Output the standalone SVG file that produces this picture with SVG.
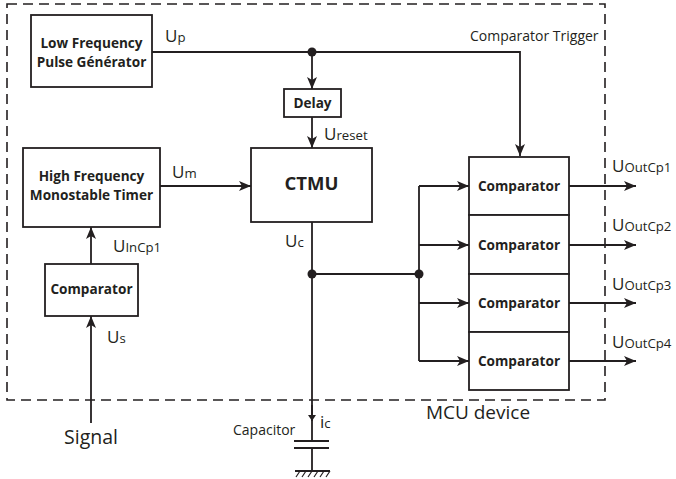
<svg xmlns="http://www.w3.org/2000/svg" width="676" height="479" viewBox="0 0 676 479">
<style>
.box{fill:#fff;stroke:#231f20;stroke-width:1.8}
.ln{fill:none;stroke:#231f20;stroke-width:1.8}
.bt{font-family:"Open Sans","Liberation Sans",sans-serif;font-weight:bold;font-size:13.6px;fill:#231f20;text-anchor:middle}
.lb{font-family:"Open Sans","Liberation Sans",sans-serif;font-size:17px;fill:#231f20}
.sb{font-size:13.2px}
.sm{font-family:"Open Sans","Liberation Sans",sans-serif;font-size:14px;fill:#231f20}
.dot{fill:#231f20}
</style>
<defs>
<marker id="ah" viewBox="0 0 12 10" refX="12" refY="5" markerWidth="12" markerHeight="10" markerUnits="userSpaceOnUse" orient="auto">
<path d="M0,0 L12,5 L0,10 L3,5 z" fill="#231f20"/>
</marker>
<marker id="sah" viewBox="0 0 6 8" refX="6" refY="4" markerWidth="6" markerHeight="8" markerUnits="userSpaceOnUse" orient="auto">
<path d="M0,0 L6,4 L0,8 z" fill="#231f20"/>
</marker>
</defs>
<rect id="mcu" x="7" y="4" width="598" height="396" fill="none" stroke="#231f20" stroke-width="1.6" stroke-dasharray="10 6"/>
<g id="connectors">
<path class="ln" d="M152,52 H520 V156" marker-end="url(#ah)"/>
<path class="ln" d="M312,52 V89" marker-end="url(#ah)"/>
<path class="ln" d="M312,117 V148" marker-end="url(#ah)"/>
<path class="ln" d="M160,186 H251" marker-end="url(#ah)"/>
<path class="ln" d="M91,264 V227" marker-end="url(#ah)"/>
<path class="ln" d="M91,423 V316" marker-end="url(#ah)"/>
<path class="ln" d="M312,222 V441"/>
<path class="ln" d="M312,405 V421" marker-end="url(#sah)"/>
<path class="ln" d="M312,274 H419"/>
<path class="ln" d="M419,186 V361"/>
<path class="ln" d="M419,186 H469" marker-end="url(#ah)"/>
<path class="ln" d="M419,245 H469" marker-end="url(#ah)"/>
<path class="ln" d="M419,303 H469" marker-end="url(#ah)"/>
<path class="ln" d="M419,361 H469" marker-end="url(#ah)"/>
<path class="ln" d="M569,186 H636" marker-end="url(#ah)"/>
<path class="ln" d="M569,245 H636" marker-end="url(#ah)"/>
<path class="ln" d="M569,303 H636" marker-end="url(#ah)"/>
<path class="ln" d="M569,361 H636" marker-end="url(#ah)"/>
<circle class="dot" cx="312" cy="52" r="4.5"/>
<circle class="dot" cx="312" cy="274" r="4.5"/>
<circle class="dot" cx="419" cy="274" r="4.5"/>
</g>
<g id="lfpg">
<rect class="box" x="31" y="15" width="121" height="72"/>
<text class="bt" x="91.5" y="48">Low Frequency</text>
<text class="bt" x="91.5" y="67">Pulse Générator</text>
</g>
<g id="delay">
<rect class="box" x="284" y="89" width="57" height="28"/>
<text class="bt" x="312.5" y="108">Delay</text>
</g>
<g id="ctmu">
<rect class="box" x="251" y="148" width="121" height="74"/>
<text class="bt" x="311.5" y="190" style="font-size:18.5px">CTMU</text>
</g>
<g id="hfmt">
<rect class="box" x="23" y="148" width="137" height="79"/>
<text class="bt" x="91.5" y="181">High Frequency</text>
<text class="bt" x="91.5" y="200">Monostable Timer</text>
</g>
<g id="comp0">
<rect class="box" x="45" y="264" width="93" height="52"/>
<text class="bt" x="91.5" y="294">Comparator</text>
</g>
<g id="comp1">
<rect class="box" x="469" y="157" width="100" height="58"/>
<text class="bt" x="519" y="191">Comparator</text>
</g>
<g id="comp2">
<rect class="box" x="469" y="215" width="100" height="59"/>
<text class="bt" x="519" y="250">Comparator</text>
</g>
<g id="comp3">
<rect class="box" x="469" y="274" width="100" height="58"/>
<text class="bt" x="519" y="308">Comparator</text>
</g>
<g id="comp4">
<rect class="box" x="469" y="332" width="100" height="58"/>
<text class="bt" x="519" y="366">Comparator</text>
</g>
<g id="capacitor">
<path class="ln" d="M294,441 H329 M294,448 H329 M312,448 V471 M295,471 H330"/>
<path d="M296,477 L300,471 M302,477 L306,471 M308,477 L312,471 M314,477 L318,471 M320,477 L324,471 M326,477 L330,471" stroke="#231f20" stroke-width="1.2"/>
<text class="sm" x="233" y="435">Capacitor</text>
</g>
<g id="labels">
<text class="lb" x="165" y="42">U<tspan class="sb">p</tspan></text>
<text class="lb" x="324" y="140">U<tspan class="sb">reset</tspan></text>
<text class="sm" x="470" y="41">Comparator Trigger</text>
<text class="lb" x="172" y="178">U<tspan class="sb">m</tspan></text>
<text class="lb" x="113" y="252">U<tspan class="sb">InCp1</tspan></text>
<text class="lb" x="285" y="247">U<tspan class="sb">c</tspan></text>
<text class="lb" x="107" y="343">U<tspan class="sb">s</tspan></text>
<text class="lb" x="320" y="428">i<tspan class="sb">c</tspan></text>
<text class="lb" x="612" y="172">U<tspan class="sb">OutCp1</tspan></text>
<text class="lb" x="612" y="231">U<tspan class="sb">OutCp2</tspan></text>
<text class="lb" x="612" y="290">U<tspan class="sb">OutCp3</tspan></text>
<text class="lb" x="612" y="348">U<tspan class="sb">OutCp4</tspan></text>
<text class="lb" x="91" y="444" text-anchor="middle" style="font-size:19.5px">Signal</text>
<text class="lb" x="478" y="419" text-anchor="middle" style="font-size:19px">MCU device</text>
</g>
</svg>
